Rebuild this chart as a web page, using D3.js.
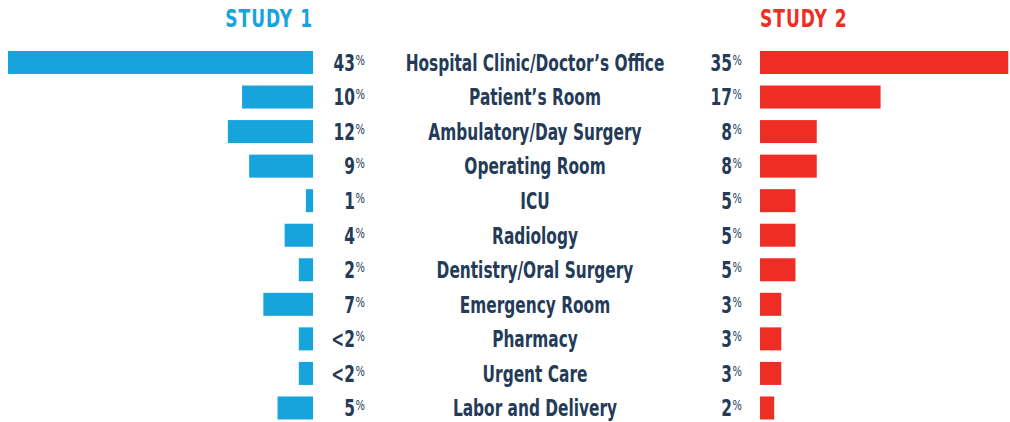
<!DOCTYPE html>
<html>
<head>
<meta charset="utf-8">
<script src="https://cdn.jsdelivr.net/npm/d3@7"></script>
<style>
  body { margin: 0; background: #fff; }
  text { font-family: "DejaVu Sans Condensed", "DejaVu Sans", sans-serif; font-weight: bold; }
</style>
</head>
<body>
<div id="chart"></div>
<script>
const categories = [
  "Hospital Clinic/Doctor\u2019s Office",
  "Patient\u2019s Room",
  "Ambulatory/Day Surgery",
  "Operating Room",
  "ICU",
  "Radiology",
  "Dentistry/Oral Surgery",
  "Emergency Room",
  "Pharmacy",
  "Urgent Care",
  "Labor and Delivery"
];
const study1 = [43, 10, 12, 9, 1, 4, 2, 7, 2, 2, 5];
const study1Labels = ["43", "10", "12", "9", "1", "4", "2", "7", "<2", "<2", "5"];
const study2 = [35, 17, 8, 8, 5, 5, 5, 3, 3, 3, 2];
const study2Labels = ["35", "17", "8", "8", "5", "5", "5", "3", "3", "3", "2"];
const seriesNames = ["STUDY 1", "STUDY 2"];

const width = 1010, height = 422;
const blue = "#17a4dc", red = "#ee2e24", ink = "#243b58";
const axis1 = 313, axis2 = 760, mid = 535;
// the original uses a very condensed face, so squeeze DejaVu horizontally
const sx = 0.76;

const svg = d3.select("#chart").append("svg")
  .attr("width", width).attr("height", height);

// one % = ~7.1 px on both sides
const x = d3.scaleLinear().domain([0, 43]).range([0, 305]);

const y = d3.scaleBand()
  .domain(categories)
  .range([45.2, 45.2 + 11 * 34.55])
  .paddingInner(0.334)
  .paddingOuter(0.167);

const rows = categories.map((c, i) => ({
  cat: c, v1: study1[i], l1: study1Labels[i], v2: study2[i], l2: study2Labels[i]
}));

const place = (px, py) => `translate(${px},${py}) scale(${sx},1)`;

// headers
svg.append("text")
  .attr("transform", place(axis1, 27))
  .attr("text-anchor", "end")
  .attr("fill", blue)
  .style("font-size", "25px")
  .style("letter-spacing", "1.3px")
  .text(seriesNames[0]);

svg.append("text")
  .attr("transform", place(axis2, 27))
  .attr("fill", red)
  .style("font-size", "25px")
  .style("letter-spacing", "1.3px")
  .text(seriesNames[1]);

// bars
svg.selectAll(".bar1").data(rows).join("rect")
  .attr("class", "bar1")
  .attr("x", d => axis1 - x(d.v1))
  .attr("y", d => y(d.cat))
  .attr("width", d => x(d.v1))
  .attr("height", y.bandwidth())
  .attr("fill", blue);

svg.selectAll(".bar2").data(rows).join("rect")
  .attr("class", "bar2")
  .attr("x", axis2)
  .attr("y", d => y(d.cat))
  .attr("width", d => x(d.v2))
  .attr("height", y.bandwidth())
  .attr("fill", red);

const baseline = d => y(d.cat) + y.bandwidth() / 2 + 8.3;

function pctLabels(cls, xPos, key) {
  const t = svg.selectAll("." + cls).data(rows).join("text")
    .attr("class", cls)
    .attr("transform", d => place(xPos, baseline(d)))
    .attr("text-anchor", "end")
    .attr("fill", ink)
    .style("font-size", "22.5px");
  t.append("tspan").text(d => d[key]);
  t.append("tspan")
    .style("font-size", "14.5px")
    .style("font-weight", "normal")
    .attr("dx", 1)
    .attr("dy", -6)
    .text("%");
}
pctLabels("val1", 365, "l1");
pctLabels("val2", 742, "l2");

svg.selectAll(".cat").data(rows).join("text")
  .attr("class", "cat")
  .attr("transform", d => place(mid, baseline(d)))
  .attr("text-anchor", "middle")
  .attr("fill", ink)
  .style("font-size", "22.5px")
  .text(d => d.cat);
</script>
</body>
</html>
